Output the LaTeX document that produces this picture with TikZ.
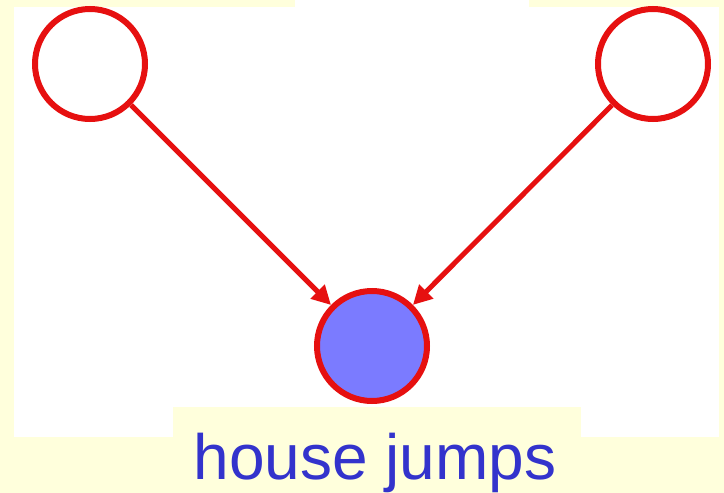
\documentclass[tikz,border=0pt]{standalone}
\usepackage{fontspec}
\setmainfont{Liberation Sans}
\usetikzlibrary{arrows.meta}
\definecolor{bgyellow}{HTML}{FFFFDC}
\definecolor{edgered}{HTML}{E61010}
\definecolor{nodeblue}{HTML}{7B7BFF}
\definecolor{textblue}{HTML}{3333CC}
\begin{document}
\begin{tikzpicture}[x=1pt,y=-1pt,
  var/.style={circle,draw=edgered,line width=6pt,minimum size=110pt,inner sep=0pt,fill=white},
  obs/.style={var,fill=nodeblue},
  link/.style={draw=edgered,line width=5pt,-{Triangle[length=19pt,width=19pt]}},
  caption/.style={text=textblue,font=\fontsize{64}{70}\selectfont,inner sep=0pt,anchor=base}]
\useasboundingbox (0,0) rectangle (724,493);
\fill[bgyellow] (0,0) rectangle (724,493);
\fill[white] (14,7) rectangle (719,437);
\fill[white] (295,0) rectangle (529,7);
\fill[bgyellow] (173,407) rectangle (581,493);
\node[var] (a) at (90,64) {};
\node[var] (b) at (653,64) {};
\node[obs] (c) at (372,346) {};
\draw[link] (a) -- (c);
\draw[link] (b) -- (c);
\node[caption] (t) at (375,479) {house jumps};
\end{tikzpicture}
\end{document}
